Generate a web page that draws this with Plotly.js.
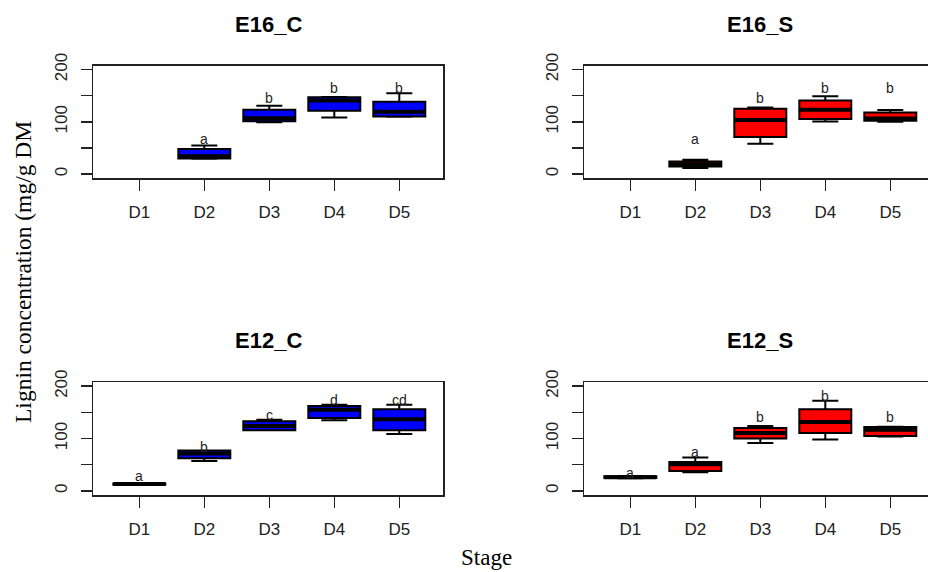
<!DOCTYPE html>
<html>
<head>
<meta charset="utf-8">
<script src="https://cdn.plot.ly/plotly-3.0.1.min.js"></script>
<style>
html, body { margin: 0; padding: 0; overflow: hidden; background: #fff; }
#chart { width: 945px; height: 572px; }
</style>
</head>
<body>
<div id="chart"></div>
<script>
// ---- data ----
const stages = ['D1', 'D2', 'D3', 'D4', 'D5'];
const e16Stages = ['D2', 'D3', 'D4', 'D5'];

// E16_C (no D1 data)
const e16cLower  = [29.5, 99.5, 108.5, 110.0];
const e16cQ1     = [30.0, 101.0, 121.4, 110.4];
const e16cMedian = [34.0, 107.0, 141.0, 119.5];
const e16cQ3     = [47.9, 123.3, 146.9, 138.6];
const e16cUpper  = [54.8, 131.0, 147.5, 154.6];

// E16_S (no D1 data)
const e16sLower  = [11.7, 58.1, 100.9, 100.3];
const e16sQ1     = [14.6, 70.9, 105.5, 102.2];
const e16sMedian = [19.0, 103.5, 123.3, 106.5];
const e16sQ3     = [24.2, 125.2, 141.1, 118.1];
const e16sUpper  = [27.4, 127.7, 148.8, 122.7];

// E12_C
const e12cLower  = [11.0, 57.1, 115.6, 134.7, 108.6];
const e12cQ1     = [11.5, 62.3, 115.6, 139.0, 115.6];
const e12cMedian = [12.8, 71.2, 123.8, 155.0, 137.0];
const e12cQ3     = [14.0, 77.0, 132.8, 162.0, 156.2];
const e12cUpper  = [14.5, 77.0, 136.0, 164.6, 164.6];

// E12_S
const e12sLower  = [24.0, 35.6, 91.4, 97.9, 104.0];
const e12sQ1     = [24.5, 38.0, 99.8, 110.5, 105.0];
const e12sMedian = [26.0, 50.9, 110.5, 131.4, 117.0];
const e12sQ3     = [28.0, 55.2, 120.0, 156.2, 122.0];
const e12sUpper  = [28.5, 63.6, 123.8, 172.2, 122.5];

// significance letters
const e16cLetters = ['a', 'b', 'b', 'b'];
const e16cLetterY = [67.7, 145.7, 164, 164];
const e16sLetters = ['a', 'b', 'b', 'b'];
const e16sLetterY = [67.7, 145.7, 164, 164];
const e12cLetters = ['a', 'b', 'c', 'd', 'cd'];
const e12cLetterY = [27.4, 84.6, 145, 173, 173];
const e12sLetters = ['a', 'a', 'b', 'b', 'b'];
const e12sLetterY = [35, 75, 141, 182, 141];

const panelTitles = ['E16_C', 'E16_S', 'E12_C', 'E12_S'];
const yTickVals = [0, 50, 100, 150, 200];
const yTickText = ['0', '', '100', '', '200'];

// ---- layout helpers ----
const W = 945, H = 572;
const SANS = 'Liberation Sans, Arial, sans-serif';
const SERIF = 'Liberation Serif, Times New Roman, serif';
const BLUE = '#0000FF', RED = '#FF0000';

function box(xs, lo, q1, med, q3, hi, color, xa, ya) {
  return {
    type: 'box', x: xs, lowerfence: lo, q1: q1, median: med, q3: q3, upperfence: hi,
    fillcolor: color, line: {color: '#000', width: 2}, width: 0.8, whiskerwidth: 0.5,
    boxpoints: false, hoverinfo: 'skip', xaxis: xa, yaxis: ya, showlegend: false
  };
}
// thick median bar (R draws the median with a heavier line)
function medianBar(xs, med, xa, ya) {
  return {
    type: 'box', x: xs, lowerfence: med, q1: med, median: med, q3: med, upperfence: med,
    fillcolor: 'rgba(0,0,0,0)', line: {color: '#000', width: 4}, width: 0.8, whiskerwidth: 0,
    boxpoints: false, hoverinfo: 'skip', xaxis: xa, yaxis: ya, showlegend: false
  };
}

const data = [
  box(e16Stages, e16cLower, e16cQ1, e16cMedian, e16cQ3, e16cUpper, BLUE, 'x', 'y'),
  medianBar(e16Stages, e16cMedian, 'x', 'y'),
  box(e16Stages, e16sLower, e16sQ1, e16sMedian, e16sQ3, e16sUpper, RED, 'x2', 'y2'),
  medianBar(e16Stages, e16sMedian, 'x2', 'y2'),
  box(stages, e12cLower, e12cQ1, e12cMedian, e12cQ3, e12cUpper, BLUE, 'x3', 'y3'),
  medianBar(stages, e12cMedian, 'x3', 'y3'),
  box(stages, e12sLower, e12sQ1, e12sMedian, e12sQ3, e12sUpper, RED, 'x4', 'y4'),
  medianBar(stages, e12sMedian, 'x4', 'y4')
];

const xLeft = [93.3 / W, 443.3 / W];
const xRight = [584.3 / W, 934.3 / W];
const yTop = [1 - 178.3 / H, 1 - 65.7 / H];
const yBot = [1 - 495 / H, 1 - 382.3 / H];

function xax(dom, anchor) {
  return {
    domain: dom, anchor: anchor, type: 'category', categoryorder: 'array', categoryarray: stages,
    range: [-0.708, 4.677], showline: true, mirror: true, linecolor: '#222', linewidth: 1.5,
    ticks: 'outside', ticklen: 11, tickwidth: 1.5, tickcolor: '#222', showgrid: false, zeroline: false,
    tickfont: {family: SANS, size: 17, color: '#222'}, ticklabelstandoff: 7, fixedrange: true
  };
}
function yax(dom, anchor) {
  return {
    domain: dom, anchor: anchor, range: [-8, 207.5], showline: true, mirror: true,
    linecolor: '#222', linewidth: 1.5, ticks: 'outside', ticklen: 11, tickwidth: 1.5, tickcolor: '#222',
    tickmode: 'array', tickvals: yTickVals, ticktext: yTickText, tickangle: -90,
    showgrid: false, zeroline: false, tickfont: {family: SANS, size: 17, color: '#222'},
    ticklabelstandoff: 7, fixedrange: true
  };
}

const annotations = [];
function letters(xs, ys, txt, xr, yr) {
  xs.forEach((s, i) => annotations.push({
    x: s, y: ys[i], xref: xr, yref: yr, text: txt[i], showarrow: false,
    xanchor: 'center', yanchor: 'middle', font: {family: SANS, size: 14, color: '#222'}
  }));
}
letters(e16Stages, e16cLetterY, e16cLetters, 'x', 'y');
letters(e16Stages, e16sLetterY, e16sLetters, 'x2', 'y2');
letters(stages, e12cLetterY, e12cLetters, 'x3', 'y3');
letters(stages, e12sLetterY, e12sLetters, 'x4', 'y4');

const titlePos = [[268.3, 24], [760.3, 24], [268.3, 340.5], [760.3, 340.5]];
panelTitles.forEach((t, i) => annotations.push({
  x: titlePos[i][0] / W, y: 1 - titlePos[i][1] / H, xref: 'paper', yref: 'paper',
  text: '<b>' + t + '</b>', showarrow: false, xanchor: 'center', yanchor: 'middle',
  font: {family: SANS, size: 22, color: '#000'}
}));

annotations.push({
  x: 23 / W, y: 1 - 272 / H, xref: 'paper', yref: 'paper', text: 'Lignin concentration (mg/g DM',
  textangle: -90, showarrow: false, xanchor: 'center', yanchor: 'middle',
  font: {family: SERIF, size: 23.5, color: '#000'}
});
annotations.push({
  x: 486.7 / W, y: 1 - 557 / H, xref: 'paper', yref: 'paper', text: 'Stage',
  showarrow: false, xanchor: 'center', yanchor: 'middle',
  font: {family: SERIF, size: 23, color: '#000'}
});

const layout = {
  width: W, height: H, margin: {l: 0, r: 0, t: 0, b: 0},
  paper_bgcolor: '#fff', plot_bgcolor: '#fff', boxmode: 'overlay', showlegend: false,
  xaxis: xax(xLeft, 'y'), yaxis: yax(yTop, 'x'),
  xaxis2: xax(xRight, 'y2'), yaxis2: yax(yTop, 'x2'),
  xaxis3: xax(xLeft, 'y3'), yaxis3: yax(yBot, 'x3'),
  xaxis4: xax(xRight, 'y4'), yaxis4: yax(yBot, 'x4'),
  annotations: annotations
};

Plotly.newPlot('chart', data, layout, {displayModeBar: false, staticPlot: true});
</script>
</body>
</html>
